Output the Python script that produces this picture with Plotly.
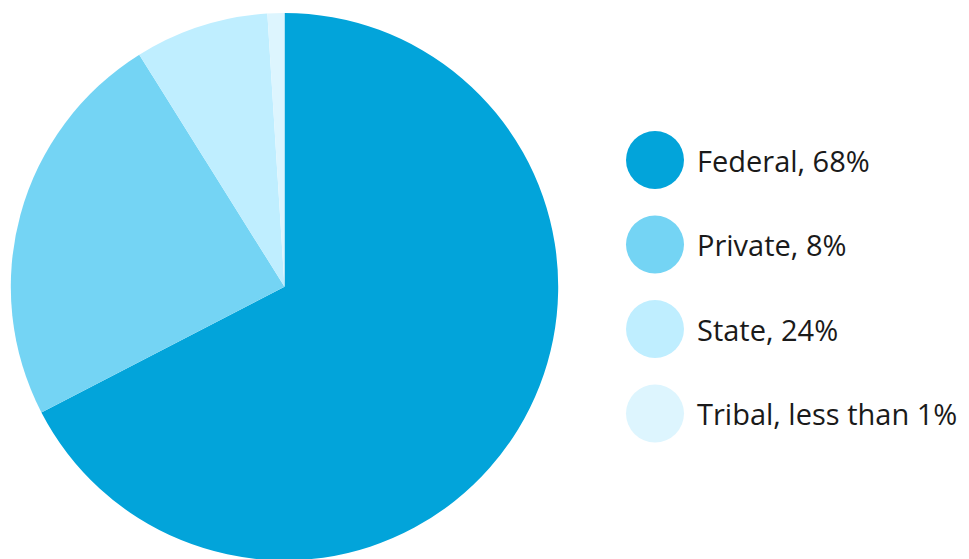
import plotly.graph_objects as go

# Slice data as drawn (clockwise from 12 o'clock)
slice_names = ["Federal", "Private", "State", "Tribal"]
slice_values = [67.4, 23.7, 7.9, 1.0]
slice_colors = ["#02A4DA", "#74D4F4", "#BFEEFF", "#DDF5FE"]

# Legend labels as printed
legend_labels = ["Federal, 68%", "Private, 8%", "State, 24%", "Tribal, less than 1%"]

W, H = 969, 559
OFF = 8  # page body margin offset compensation

fig = go.Figure()
cx, cy, r = 284.5 - OFF, 286.7 - OFF, 273.7
fig.add_trace(go.Pie(
    labels=slice_names,
    values=slice_values,
    marker=dict(colors=slice_colors, line=dict(width=0)),
    sort=False,
    direction="clockwise",
    rotation=0,
    textinfo="none",
    hoverinfo="label+percent",
    showlegend=False,
    domain=dict(x=[(cx - r) / W, (cx + r) / W],
                y=[(H - cy - r) / H, (H - cy + r) / H]),
))

# Custom legend with large circles
leg_x = 655 - OFF
leg_y0 = 160 - OFF
leg_dy = 84.5
ys = [leg_y0 + i * leg_dy for i in range(len(legend_labels))]
fig.add_trace(go.Scatter(
    x=[leg_x] * len(legend_labels),
    y=ys,
    mode="markers",
    marker=dict(size=58, color=slice_colors, line=dict(width=0)),
    hoverinfo="skip",
    showlegend=False,
))
for lab, y in zip(legend_labels, ys):
    fig.add_annotation(
        x=697 - OFF - 2, y=y, text=lab, showarrow=False, xanchor="left", yanchor="middle",
        font=dict(family="Open Sans", size=29, color="#1a1a1a"),
    )

fig.update_layout(
    width=W, height=H,
    margin=dict(l=0, r=0, t=0, b=0),
    paper_bgcolor="white", plot_bgcolor="rgba(0,0,0,0)",
    xaxis=dict(range=[0, W], visible=False, fixedrange=True),
    yaxis=dict(range=[H, 0], visible=False, fixedrange=True),
)

fig.write_html("out.html")
